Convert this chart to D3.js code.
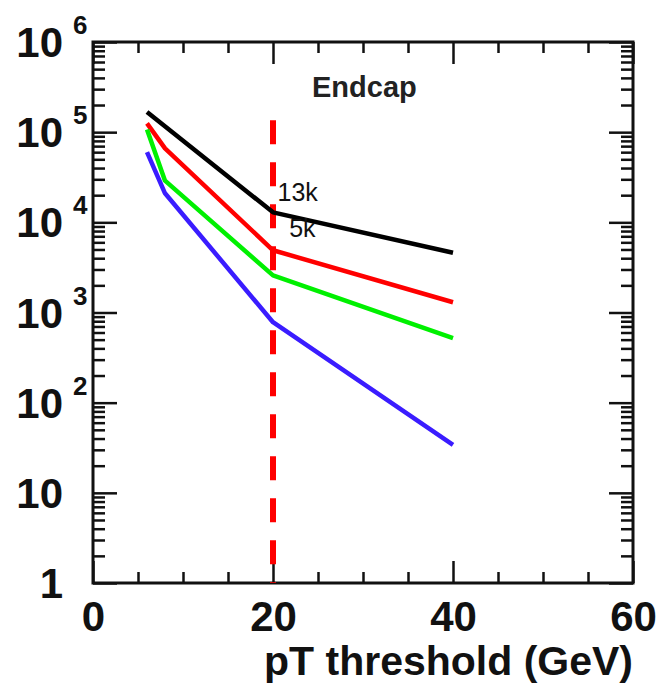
<!DOCTYPE html>
<html>
<head>
<meta charset="utf-8">
<script src="https://cdn.jsdelivr.net/npm/d3@7"></script>
<style>
  body { margin: 0; background: #fff; }
  svg { display: block; font-family: "Liberation Sans", Arial, Helvetica, sans-serif; }
  .tick text { font-weight: bold; }
</style>
</head>
<body>
<div id="chart"></div>
<script>
// pT thresholds (GeV)
const ptFull = [6, 8, 20, 40];
const ptBlack = [6, 20, 40];

// rates (log scale)
const rateBlack = [1.67e5, 1.29e4, 4.6e3];
const rateRed = [1.25e5, 6.6e4, 4.9e3, 1.3e3];
const rateGreen = [1.07e5, 2.9e4, 2.58e3, 5.2e2];
const rateBlue = [6.0e4, 2.1e4, 7.8e2, 34];

const xTicksMajor = [0, 20, 40, 60];
const xTicksMinor = [5, 10, 15, 25, 30, 35, 45, 50, 55];
const yExponents = [0, 1, 2, 3, 4, 5, 6];

const cutValue = 20;
const cutTop = 1.36e5;

const labels = [
  { text: "13k", x: 20.5, y: 1.72e4 },
  { text: "5k", x: 21.8, y: 6.9e3 }
];

const width = 658, height = 684;
const margin = { top: 42, right: 25, bottom: 101, left: 93 };

const svg = d3.select("#chart")
  .append("svg")
  .attr("width", width)
  .attr("height", height);

const x = d3.scaleLinear()
  .domain([0, 60])
  .range([margin.left, width - margin.right]);

const y = d3.scaleLog()
  .domain([1, 1e6])
  .range([height - margin.bottom, margin.top]);

const plotW = width - margin.left - margin.right;
const plotH = height - margin.top - margin.bottom;

// minor ticks on log axis: 2..9 per decade
const yMinor = [];
for (let e = 0; e < 6; e++) {
  for (let m = 2; m <= 9; m++) yMinor.push(m * Math.pow(10, e));
}
const yMajor = yExponents.map(e => Math.pow(10, e));

function styleAxis(g) {
  g.select(".domain").remove();
  g.selectAll(".tick line").attr("stroke", "#111").attr("stroke-width", 2.5);
}

// bottom axis
svg.append("g")
  .attr("transform", `translate(0, ${height - margin.bottom})`)
  .call(d3.axisBottom(x).tickValues(xTicksMajor).tickSize(-22).tickPadding(18))
  .call(styleAxis)
  .call(g => g.selectAll(".tick text")
    .attr("font-size", 42)
    .attr("fill", "#111"));

svg.append("g")
  .attr("transform", `translate(0, ${height - margin.bottom})`)
  .call(d3.axisBottom(x).tickValues(xTicksMinor).tickSize(-11).tickFormat(""))
  .call(styleAxis);

// top axis
svg.append("g")
  .attr("transform", `translate(0, ${margin.top})`)
  .call(d3.axisTop(x).tickValues(xTicksMajor).tickSize(-22).tickFormat(""))
  .call(styleAxis);

svg.append("g")
  .attr("transform", `translate(0, ${margin.top})`)
  .call(d3.axisTop(x).tickValues(xTicksMinor).tickSize(-11).tickFormat(""))
  .call(styleAxis);

// left axis
svg.append("g")
  .attr("transform", `translate(${margin.left}, 0)`)
  .call(d3.axisLeft(y).tickValues(yMajor).tickSize(-24).tickFormat(""))
  .call(styleAxis);

svg.append("g")
  .attr("transform", `translate(${margin.left}, 0)`)
  .call(d3.axisLeft(y).tickValues(yMinor).tickSize(-12).tickFormat(""))
  .call(styleAxis);

// right axis
svg.append("g")
  .attr("transform", `translate(${width - margin.right}, 0)`)
  .call(d3.axisRight(y).tickValues(yMajor).tickSize(-24).tickFormat(""))
  .call(styleAxis);

svg.append("g")
  .attr("transform", `translate(${width - margin.right}, 0)`)
  .call(d3.axisRight(y).tickValues(yMinor).tickSize(-12).tickFormat(""))
  .call(styleAxis);

// y labels, ROOT style 10^n
const yLab = svg.append("g").attr("fill", "#111").attr("font-weight", "bold");
yExponents.forEach(e => {
  const v = Math.pow(10, e);
  const base = e === 0 ? "1" : "10";
  yLab.append("text")
    .attr("x", 63)
    .attr("y", y(v) + 15)
    .attr("text-anchor", "end")
    .attr("font-size", 42)
    .text(base);
  if (e > 1) {
    yLab.append("text")
      .attr("x", 73)
      .attr("y", y(v) - 8)
      .attr("font-size", 26)
      .text(e);
  }
});

// frame
svg.append("rect")
  .attr("x", margin.left)
  .attr("y", margin.top)
  .attr("width", plotW)
  .attr("height", plotH)
  .attr("fill", "none")
  .attr("stroke", "#111")
  .attr("stroke-width", 3);

// cut line
svg.append("line")
  .attr("x1", x(cutValue))
  .attr("x2", x(cutValue))
  .attr("y1", y(cutTop))
  .attr("y2", y(1))
  .attr("stroke", "#ff0000")
  .attr("stroke-width", 6)
  .attr("stroke-dasharray", "24,18");

const line = d3.line()
  .x(d => x(d[0]))
  .y(d => y(d[1]));

const series = [
  { xs: ptBlack, ys: rateBlack, color: "#000000" },
  { xs: ptFull, ys: rateRed, color: "#ff0000" },
  { xs: ptFull, ys: rateGreen, color: "#00f000" },
  { xs: ptFull, ys: rateBlue, color: "#3a1cff" }
];

svg.selectAll(".rate")
  .data(series)
  .enter()
  .append("path")
  .attr("class", "rate")
  .attr("d", s => line(s.xs.map((v, i) => [v, s.ys[i]])))
  .attr("fill", "none")
  .attr("stroke", s => s.color)
  .attr("stroke-width", 4.5)
  .attr("stroke-linejoin", "round");

// annotations
svg.selectAll(".ann")
  .data(labels)
  .enter()
  .append("text")
  .attr("class", "ann")
  .attr("x", d => x(d.x))
  .attr("y", d => y(d.y))
  .attr("font-size", 25)
  .attr("fill", "#111")
  .text(d => d.text);

svg.append("text")
  .attr("x", 312)
  .attr("y", 97)
  .attr("font-size", 29)
  .attr("font-weight", "bold")
  .attr("fill", "#222")
  .text("Endcap");

// axis title
svg.append("text")
  .attr("x", width - margin.right)
  .attr("y", 675)
  .attr("text-anchor", "end")
  .attr("font-size", 41)
  .attr("font-weight", "bold")
  .attr("fill", "#111")
  .text("pT threshold (GeV)");
</script>
</body>
</html>
